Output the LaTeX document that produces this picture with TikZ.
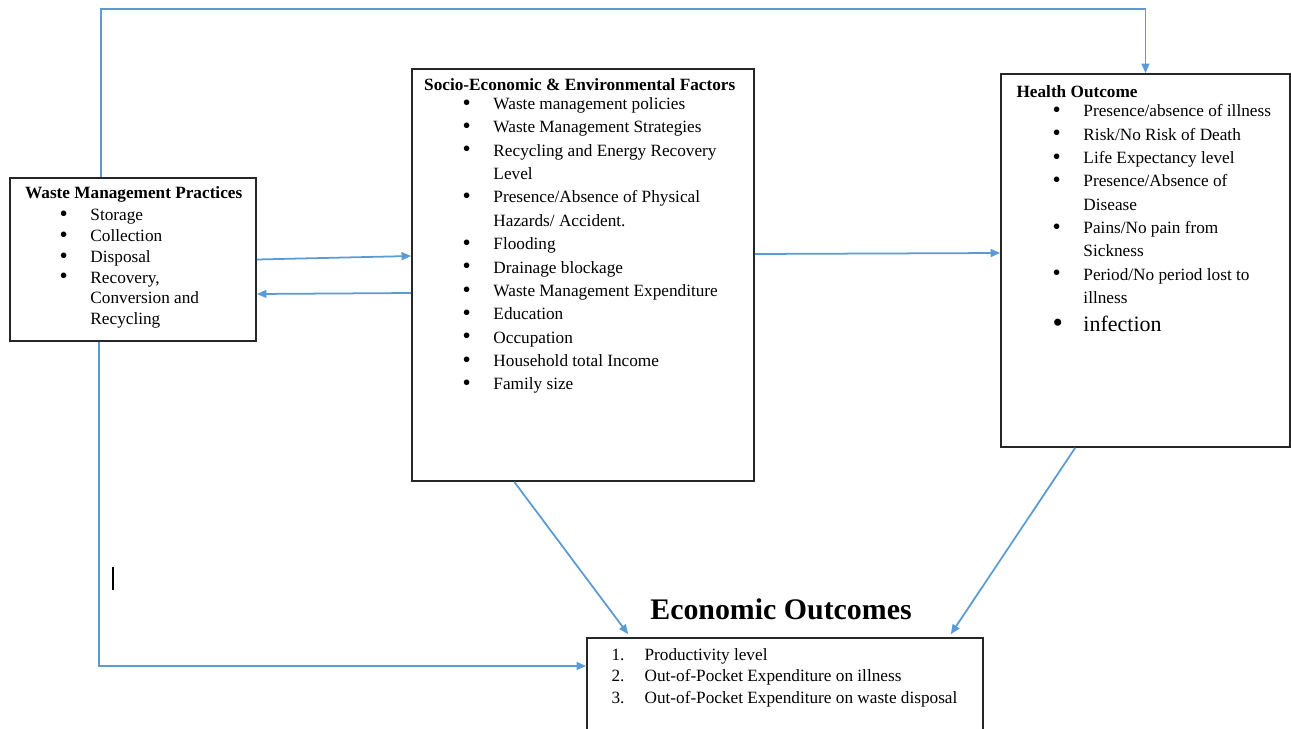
\documentclass[tikz,border=0pt]{standalone}
\usepackage{fontspec}
\setmainfont{Liberation Serif}
\usetikzlibrary{arrows.meta,positioning,calc}

\definecolor{linkblue}{RGB}{91,155,213}

% list helpers
\newcommand{\bul}{\makebox[17.6pt][l]{\smash{\raisebox{-0.35pt}{\fontsize{1.35em}{0pt}\selectfont\textbullet}}}}
\newcommand{\cnt}{\hspace*{17.6pt}}
\newcommand{\itemno}[1]{\makebox[18.8pt][l]{#1.}}

\begin{document}
\begin{tikzpicture}[
    box/.style={
        rectangle,
        draw=black!85,
        line width=0.9pt,
        inner sep=0pt,
    },
    boxtitle/.style={
        font=\fontsize{9.8}{12}\selectfont\bfseries,
        inner sep=0pt,
    },
    boxlist/.style={
        anchor=north west,
        align=left,
        inner sep=0pt,
        font=\fontsize{9.8}{#1}\selectfont,
    },
    link/.style={
        -{Triangle[length=5.5pt, width=4.5pt]},
        line width=1pt,
        draw=linkblue,
    },
]

\useasboundingbox (0,0) rectangle (25.82,-14.58);

% === Boxes ===
\node[box, minimum width=4.92cm, minimum height=3.26cm] (waste) at (2.66,-5.19) {};
\node[box, minimum width=6.84cm, minimum height=8.24cm] (socio) at (11.66,-5.5) {};
\node[box, minimum width=5.78cm, minimum height=7.46cm] (health) at (22.91,-5.21) {};
\node[box, minimum width=7.92cm, minimum height=2.6cm] (econ) at (15.7,-14.06) {};

% === Waste Management Practices ===
\node[boxtitle] (wastetitle) at ([shift={(2.49,-0.34)}]waste.north west) {Waste Management Practices};
\node[boxlist=11.8pt] (wastelist) at ([shift={(1.0,-0.64)}]waste.north west) {
    \bul Storage\\
    \bul Collection\\
    \bul Disposal\\
    \bul Recovery,\\
    \cnt Conversion and\\
    \cnt Recycling
};

% === Socio-Economic & Environmental Factors ===
\node[boxtitle] (sociotitle) at ([shift={(3.37,-0.32)}]socio.north west) {Socio-Economic \& Environmental Factors};
\node[boxlist=13.3pt] (sociolist) at ([shift={(1.02,-0.58)}]socio.north west) {
    \bul Waste management policies\\
    \bul Waste Management Strategies\\
    \bul Recycling and Energy Recovery\\
    \cnt Level\\
    \bul Presence/Absence of Physical\\
    \cnt Hazards/ Accident.\\
    \bul Flooding\\
    \bul Drainage blockage\\
    \bul Waste Management Expenditure\\
    \bul Education\\
    \bul Occupation\\
    \bul Household total Income\\
    \bul Family size
};

% === Health Outcome ===
\node[boxtitle, anchor=west] (healthtitle) at ([shift={(0.32,-0.36)}]health.north west) {Health Outcome};
\node[boxlist=13.3pt] (healthlist) at ([shift={(1.04,-0.62)}]health.north west) {
    \bul Presence/absence of illness\\
    \bul Risk/No Risk of Death\\
    \bul Life Expectancy level\\
    \bul Presence/Absence of\\
    \cnt Disease\\
    \bul Pains/No pain from\\
    \cnt Sickness\\
    \bul Period/No period lost to\\
    \cnt illness\\[2.7pt]
    {\fontsize{12.5}{14}\selectfont\bul infection}
};

% === Economic Outcomes ===
\node[font=\fontsize{17}{20}\selectfont\bfseries] (econtitle) at ([shift={(-0.08,0.56)}]econ.north) {Economic Outcomes};
\node[boxlist=12.2pt] (econlist) at ([shift={(0.5,-0.22)}]econ.north west) {
    \itemno{1}Productivity level\\
    \itemno{2}Out-of-Pocket Expenditure on illness\\
    \itemno{3}Out-of-Pocket Expenditure on waste disposal
};

% === Arrows ===
\draw[link] ([xshift=1.84cm]waste.north west) |- ([yshift=1.28cm]health.north) -- (health.north);
\draw[link] (waste.east) -- ([yshift=0.38cm]socio.west);
\draw[link] ([yshift=-0.36cm]socio.west) -- ([yshift=-0.69cm]waste.east);
\draw[link] ([yshift=0.42cm]socio.east) -- ([yshift=0.15cm]health.west);
\draw[link] ([xshift=2.06cm]socio.south west) -- ([shift={(0.84,0.06)}]econ.north west);
\draw[link] ([xshift=1.5cm]health.south west) -- ([shift={(-0.66,0.06)}]econ.north east);
\draw[link] ([xshift=1.8cm]waste.south west) |- ([yshift=0.74cm]econ.west);

% stray mark
\draw[line width=0.6pt] (2.26,-11.34) -- (2.26,-11.8);

\end{tikzpicture}
\end{document}
